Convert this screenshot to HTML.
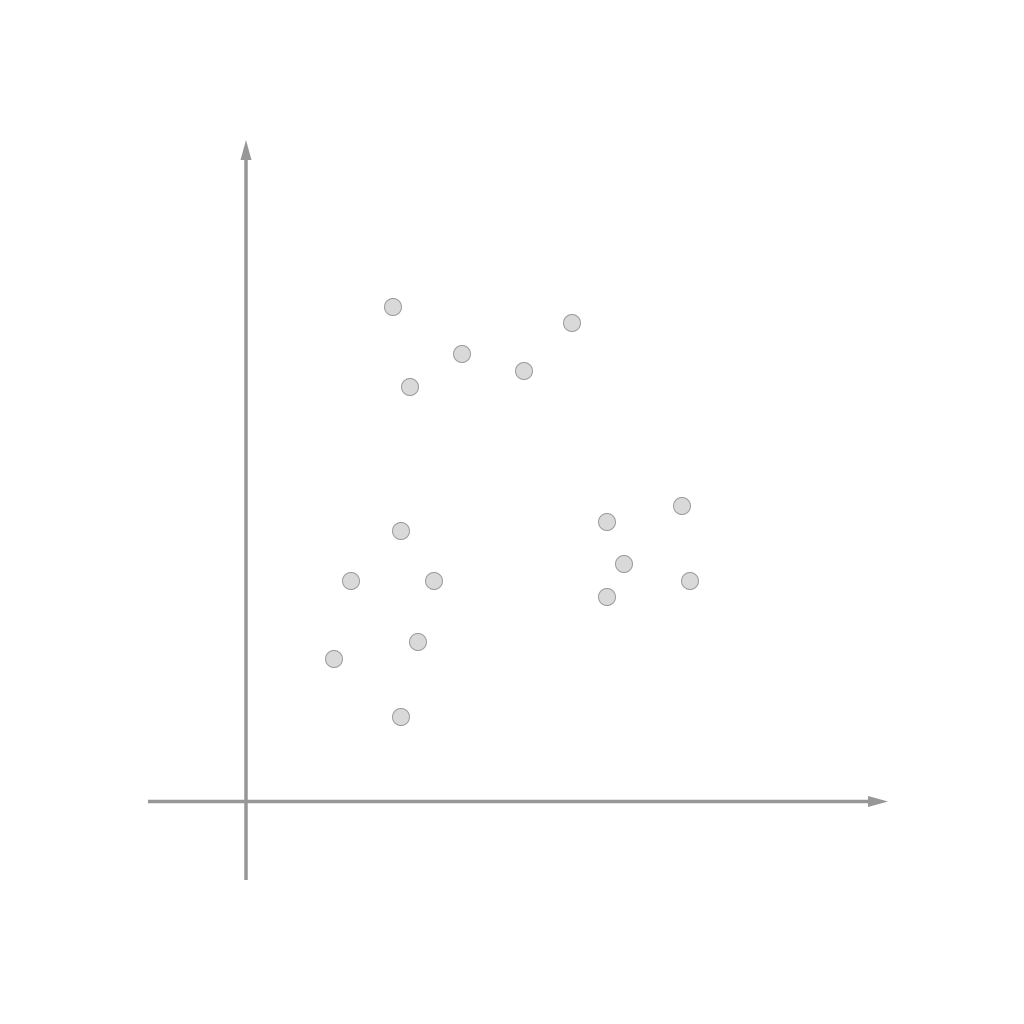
<!DOCTYPE html>
<html>
<head>
<meta charset="utf-8">
<style>
html,body{margin:0;padding:0;background:#fff;}
svg{display:block;}
</style>
</head>
<body>
<svg id="chart" width="1024" height="1024" viewBox="0 0 1024 1024" xmlns="http://www.w3.org/2000/svg">
  <rect width="1024" height="1024" fill="#fff"/>
  <g>
    <line x1="148" y1="801.5" x2="870" y2="801.5" stroke="#979797" stroke-width="3.5"/>
    <polygon points="868,796 888,801.5 868,807" fill="#979797"/>
  </g>
  <g>
    <line x1="246" y1="880" x2="246" y2="158" stroke="#979797" stroke-width="3.5"/>
    <polygon points="240.5,160 246,140 251.5,160" fill="#979797"/>
  </g>
  <g id="points"></g>
</svg>
<script>
const xValues = [1.47, 2.16, 3.26, 2.78, 1.64, 1.55, 1.05, 1.88, 1.72, 0.88, 1.55, 3.61, 4.36, 3.78, 4.44, 3.61];
const yValues = [4.94, 4.47, 4.78, 4.30, 4.14, 2.70, 2.20, 2.20, 1.59, 1.42, 0.84, 2.79, 2.95, 2.37, 2.20, 2.04];

function xScale(v){ return 246 + v * 100; }
function yScale(v){ return 801 - v * 100; }

const g = document.getElementById('points');
const ns = 'http://www.w3.org/2000/svg';
for (let i = 0; i < xValues.length; i++) {
  const c = document.createElementNS(ns, 'circle');
  c.setAttribute('cx', xScale(xValues[i]));
  c.setAttribute('cy', yScale(yValues[i]));
  c.setAttribute('r', 8.5);
  c.setAttribute('fill', '#d9d9d9');
  c.setAttribute('stroke', '#9a9a9a');
  c.setAttribute('stroke-width', 1);
  
  
  g.appendChild(c);
}
</script>
</body>
</html>
